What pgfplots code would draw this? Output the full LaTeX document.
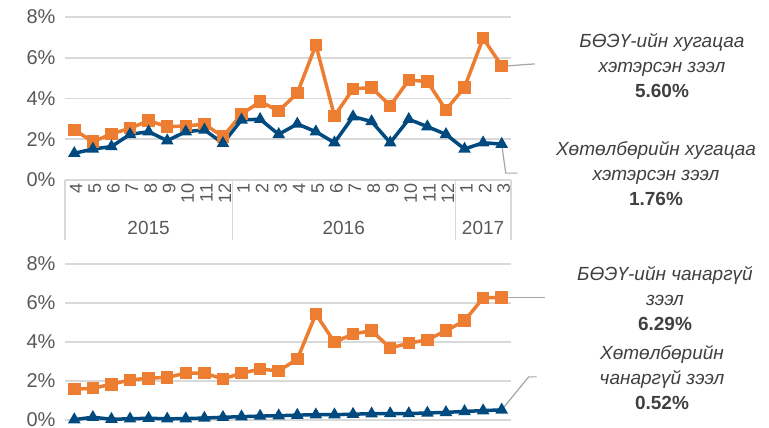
\documentclass[border=0pt]{standalone}
\usepackage{pgfplots}
\pgfplotsset{compat=1.18}
\usepackage{pgfplotstable}
\usepackage{fontspec}
\setmainfont{Liberation Sans}
\definecolor{orng}{HTML}{ED7D31}
\definecolor{dblue}{HTML}{004A7F}
\definecolor{gridc}{HTML}{D9D9D9}
\definecolor{tickc}{HTML}{595959}
\definecolor{txtc}{HTML}{404040}
\definecolor{leadc}{HTML}{A6A6A6}

\pgfplotstableread{
x bank prog
0 2.46 1.31
1 1.88 1.52
2 2.26 1.64
3 2.54 2.24
4 2.91 2.37
5 2.62 1.93
6 2.65 2.37
7 2.74 2.46
8 2.13 1.80
9 3.23 2.95
10 3.85 2.98
11 3.39 2.24
12 4.26 2.75
13 6.63 2.37
14 3.14 1.83
15 4.47 3.11
16 4.54 2.87
17 3.64 1.83
18 4.91 2.98
19 4.83 2.62
20 3.44 2.24
21 4.55 1.52
22 6.96 1.83
23 5.60 1.76
}\overdue

\pgfplotstableread{
x bank prog
0 1.58 0.02
1 1.63 0.14
2 1.83 0.04
3 2.06 0.06
4 2.14 0.09
5 2.19 0.06
6 2.40 0.07
7 2.40 0.10
8 2.11 0.14
9 2.40 0.17
10 2.61 0.20
11 2.52 0.22
12 3.12 0.25
13 5.43 0.27
14 3.99 0.27
15 4.41 0.30
16 4.58 0.32
17 3.69 0.33
18 3.94 0.33
19 4.11 0.36
20 4.58 0.39
21 5.09 0.44
22 6.26 0.48
23 6.29 0.52
}\npl

\pgfplotsset{mystyle/.style={
  scale only axis, width=446pt, xmin=-0.5, xmax=23.5, ymin=0, ymax=8,
  ytick={0,2,4,6,8}, yticklabels={0\%,2\%,4\%,6\%,8\%},
  ymajorgrids, grid style={gridc, line width=1.5pt},
  axis line style={draw=none}, major tick length=0pt,
  yticklabel style={font=\fontsize{20}{24}\selectfont, text=tickc, xshift=-6pt},
  clip=false,
}}
\tikzset{
  bankline/.style={orng, line width=3.5pt, mark=square*, mark size=4.5pt, mark options={solid}},
  progline/.style={dblue, line width=3.5pt, mark=triangle*, mark size=3.8pt, mark options={solid}},
  lead/.style={leadc, line width=1.2pt},
  ann/.style={text=txtc, align=center, font=\fontsize{19}{25}\selectfont},
}

\begin{document}
\begin{tikzpicture}[x=1pt,y=1pt]
\useasboundingbox (0,0) rectangle (769,428);

\begin{axis}[mystyle, at={(65pt,248pt)}, anchor=south west, height=163pt,
  xtick={0,...,23},
  xticklabels={4,5,6,7,8,9,10,11,12,1,2,3,4,5,6,7,8,9,10,11,12,1,2,3},
  xticklabel style={rotate=90, anchor=east, font=\fontsize{18}{20}\selectfont, text=tickc, yshift=-2pt},
  extra y ticks={0}, extra y tick labels={}, ]
\addplot[bankline] table[x=x,y=bank] {\overdue};
\addplot[progline] table[x=x,y=prog] {\overdue};
\draw[gridc, line width=1.5pt] (axis cs:-0.5,0) -- ++(0pt,-60pt);
\draw[gridc, line width=1.5pt] (axis cs:8.5,0) -- ++(0pt,-60pt);
\draw[gridc, line width=1.5pt] (axis cs:20.5,0) -- ++(0pt,-60pt);
\draw[gridc, line width=1.5pt] (axis cs:23.5,0) -- ++(0pt,-60pt);
\node[font=\fontsize{19}{22}\selectfont, text=tickc] at (axis cs:4,0) [yshift=-48pt] {2015};
\node[font=\fontsize{19}{22}\selectfont, text=tickc] at (axis cs:14.5,0) [yshift=-48pt] {2016};
\node[font=\fontsize{19}{22}\selectfont, text=tickc] at (axis cs:22,0) [yshift=-48pt] {2017};
\draw[lead] (axis cs:23,5.60) ++(5pt,0pt) -- ++(28pt,2pt);
\draw[lead] (axis cs:23,1.76) -- ++(4pt,-29pt) -- ++(12pt,0pt);
\end{axis}

\begin{axis}[mystyle, at={(65pt,8pt)}, anchor=south west, height=156pt,
  xtick=\empty]
\addplot[bankline] table[x=x,y=bank] {\npl};
\addplot[progline] table[x=x,y=prog] {\npl};
\draw[lead] (axis cs:23,6.29) ++(4pt,0pt) -- ++(39pt,0pt);
\draw[lead] (axis cs:23,0.52) -- ++(27pt,33pt) -- ++(8pt,0pt);
\end{axis}

\node[ann] at (662,362) {\itshape БӨЭҮ-ийн хугацаа\\ \itshape хэтэрсэн зээл\\ \bfseries 5.60\%};
\node[ann] at (656,254) {\itshape Хөтөлбөрийн хугацаа\\ \itshape хэтэрсэн зээл\\ \bfseries 1.76\%};
\node[ann] at (665,129) {\itshape БӨЭҮ-ийн чанаргүй\\ \itshape зээл\\ \bfseries 6.29\%};
\node[ann] at (662,50) {\itshape Хөтөлбөрийн\\ \itshape чанаргүй зээл\\ \bfseries 0.52\%};
\end{tikzpicture}
\end{document}
